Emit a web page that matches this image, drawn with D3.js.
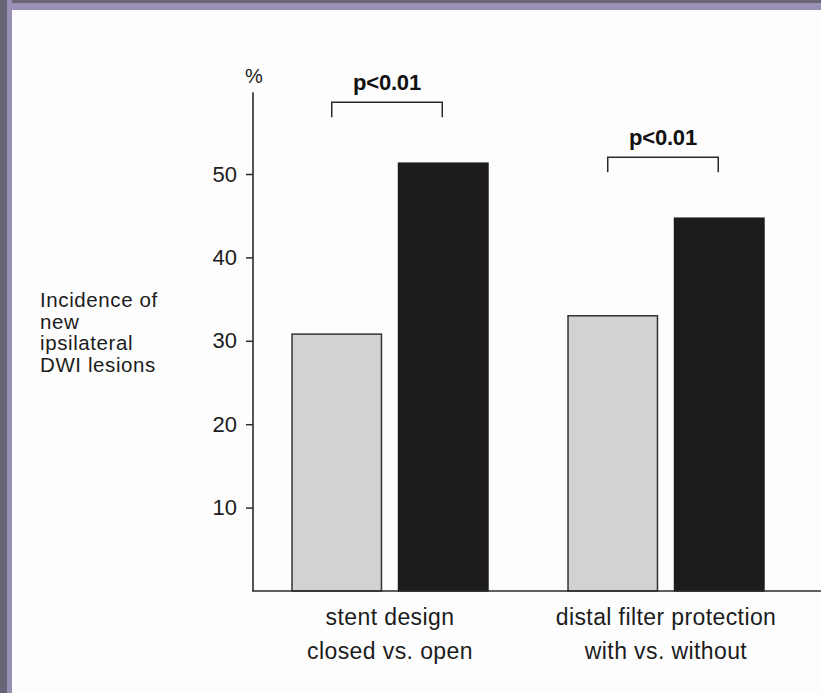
<!DOCTYPE html>
<html>
<head>
<meta charset="utf-8">
<script src="https://cdn.jsdelivr.net/npm/d3@7"></script>
<style>
  html, body { margin: 0; padding: 0; background: #fdfdfd; }
  svg { display: block; font-family: "Liberation Sans", Arial, sans-serif; }
</style>
</head>
<body>
<div id="container"></div>
<script>
/* DATA */
const groups = ["stent design", "distal filter protection"]
const groupLines = [["stent design", "closed vs. open"], ["distal filter protection", "with vs. without"]]
const series = ["first", "second"]          // closed / with  vs  open / without
const lightValues = [30.8, 33.0]
const darkValues = [51.3, 44.7]
const pLabels = ["p<0.01", "p<0.01"]
const yTicks = [10, 20, 30, 40, 50]
const yLabelLines = ["Incidence of", "new", "ipsilateral", "DWI lesions"]

/* CONSTANTS */
const width = 821
const height = 693
const baseY = 591
const axisX = 253

const svg = d3.select("#container")
  .append("svg")
  .attr("width", width)
  .attr("height", height)

// frame
svg.append("rect").attr("x", 0).attr("y", 0).attr("width", width).attr("height", height).attr("fill", "#fdfdfd")
svg.append("rect").attr("x", 0).attr("y", 0).attr("width", width).attr("height", 10).attr("fill", "#9a90b6")
svg.append("rect").attr("x", 0).attr("y", 0).attr("width", width).attr("height", 3).attr("fill", "#686676")
svg.append("rect").attr("x", 0).attr("y", 0).attr("width", 12).attr("height", height).attr("fill", "#9a90b6")
svg.append("rect").attr("x", 0).attr("y", 0).attr("width", 7).attr("height", height).attr("fill", "#686676")

/* SCALES */
const yScale = d3.scaleLinear()
  .domain([0, 50])
  .range([baseY, 174])

const x0 = d3.scaleBand()
  .domain(groups)
  .range([252, 804])
  .paddingInner(0.29)
  .paddingOuter(0.145)

const x1 = d3.scaleBand()
  .domain(series)
  .range([0, x0.bandwidth()])
  .paddingInner(0.16)

const data = groups.map((g, i) => ({
  group: g,
  lines: groupLines[i],
  p: pLabels[i],
  values: [
    { key: series[0], value: lightValues[i] },
    { key: series[1], value: darkValues[i] }
  ]
}))

const ink = "#2a2a2a"
const txt = "#1c1c1c"

/* AXES */
const yAxis = d3.axisLeft(yScale)
  .tickValues(yTicks)
  .tickSize(7)
  .tickPadding(9)
  .tickSizeOuter(0)

const yg = svg.append("g")
  .attr("transform", `translate(${axisX},0)`)
  .call(yAxis)
yg.select(".domain").remove()
yg.selectAll(".tick line").attr("stroke", ink).attr("stroke-width", 1.5)
yg.selectAll(".tick text")
  .attr("fill", txt)
  .attr("font-size", 22)
  .attr("font-family", "Liberation Sans, Arial, sans-serif")

// y axis line, runs above the top tick
svg.append("line")
  .attr("x1", axisX).attr("x2", axisX)
  .attr("y1", baseY).attr("y2", yScale(59.8))
  .attr("stroke", ink).attr("stroke-width", 1.6)

svg.append("text")
  .attr("x", axisX + 1).attr("y", 83)
  .attr("text-anchor", "middle")
  .attr("font-size", 20)
  .attr("fill", txt)
  .text("%")

// bars
const gGroups = svg.selectAll("g.group")
  .data(data)
  .join("g")
  .attr("class", "group")
  .attr("transform", d => `translate(${x0(d.group)},0)`)

gGroups.selectAll("rect")
  .data(d => d.values)
  .join("rect")
  .attr("x", d => x1(d.key))
  .attr("width", x1.bandwidth())
  .attr("y", d => yScale(d.value))
  .attr("height", d => baseY - yScale(d.value))
  .attr("fill", d => d.key === series[0] ? "#d2d2d2" : "#1e1b1b")
  .attr("stroke", d => d.key === series[0] ? "#333" : "#1e1b1b")
  .attr("stroke-width", 1.5)

// x axis line
svg.append("line")
  .attr("x1", axisX - 1).attr("x2", width)
  .attr("y1", baseY).attr("y2", baseY)
  .attr("stroke", ink).attr("stroke-width", 1.6)

// significance brackets
gGroups.each(function(d) {
  const g = d3.select(this)
  const top = yScale(d3.max(d.values, v => v.value)) - 61
  const left = x1(series[0]) + x1.bandwidth() / 2 - 5
  const right = x1(series[1]) + x1.bandwidth() / 2 - 1
  g.append("path")
    .attr("d", `M${left},${top + 15}V${top}H${right}V${top + 15}`)
    .attr("fill", "none")
    .attr("stroke", ink)
    .attr("stroke-width", 1.5)
  g.append("text")
    .attr("x", (left + right) / 2)
    .attr("y", top - 12)
    .attr("text-anchor", "middle")
    .attr("font-size", 22)
    .attr("font-weight", "bold")
    .attr("letter-spacing", -0.2)
    .attr("fill", "#111")
    .text(d.p)
})

// category labels
gGroups.append("text")
  .attr("x", x0.bandwidth() / 2)
  .attr("text-anchor", "middle")
  .attr("font-size", 23)
  .attr("letter-spacing", 0.4)
  .attr("fill", txt)
  .selectAll("tspan")
  .data(d => d.lines)
  .join("tspan")
  .attr("x", x0.bandwidth() / 2)
  .attr("y", (d, i) => 625 + i * 34)
  .text(d => d)

// y title
svg.append("text")
  .attr("x", 40)
  .attr("font-size", 20.5)
  .attr("letter-spacing", 0.6)
  .attr("fill", txt)
  .selectAll("tspan")
  .data(yLabelLines)
  .join("tspan")
  .attr("x", 40)
  .attr("y", (d, i) => 307 + i * 21.5)
  .text(d => d)
</script>
</body>
</html>
